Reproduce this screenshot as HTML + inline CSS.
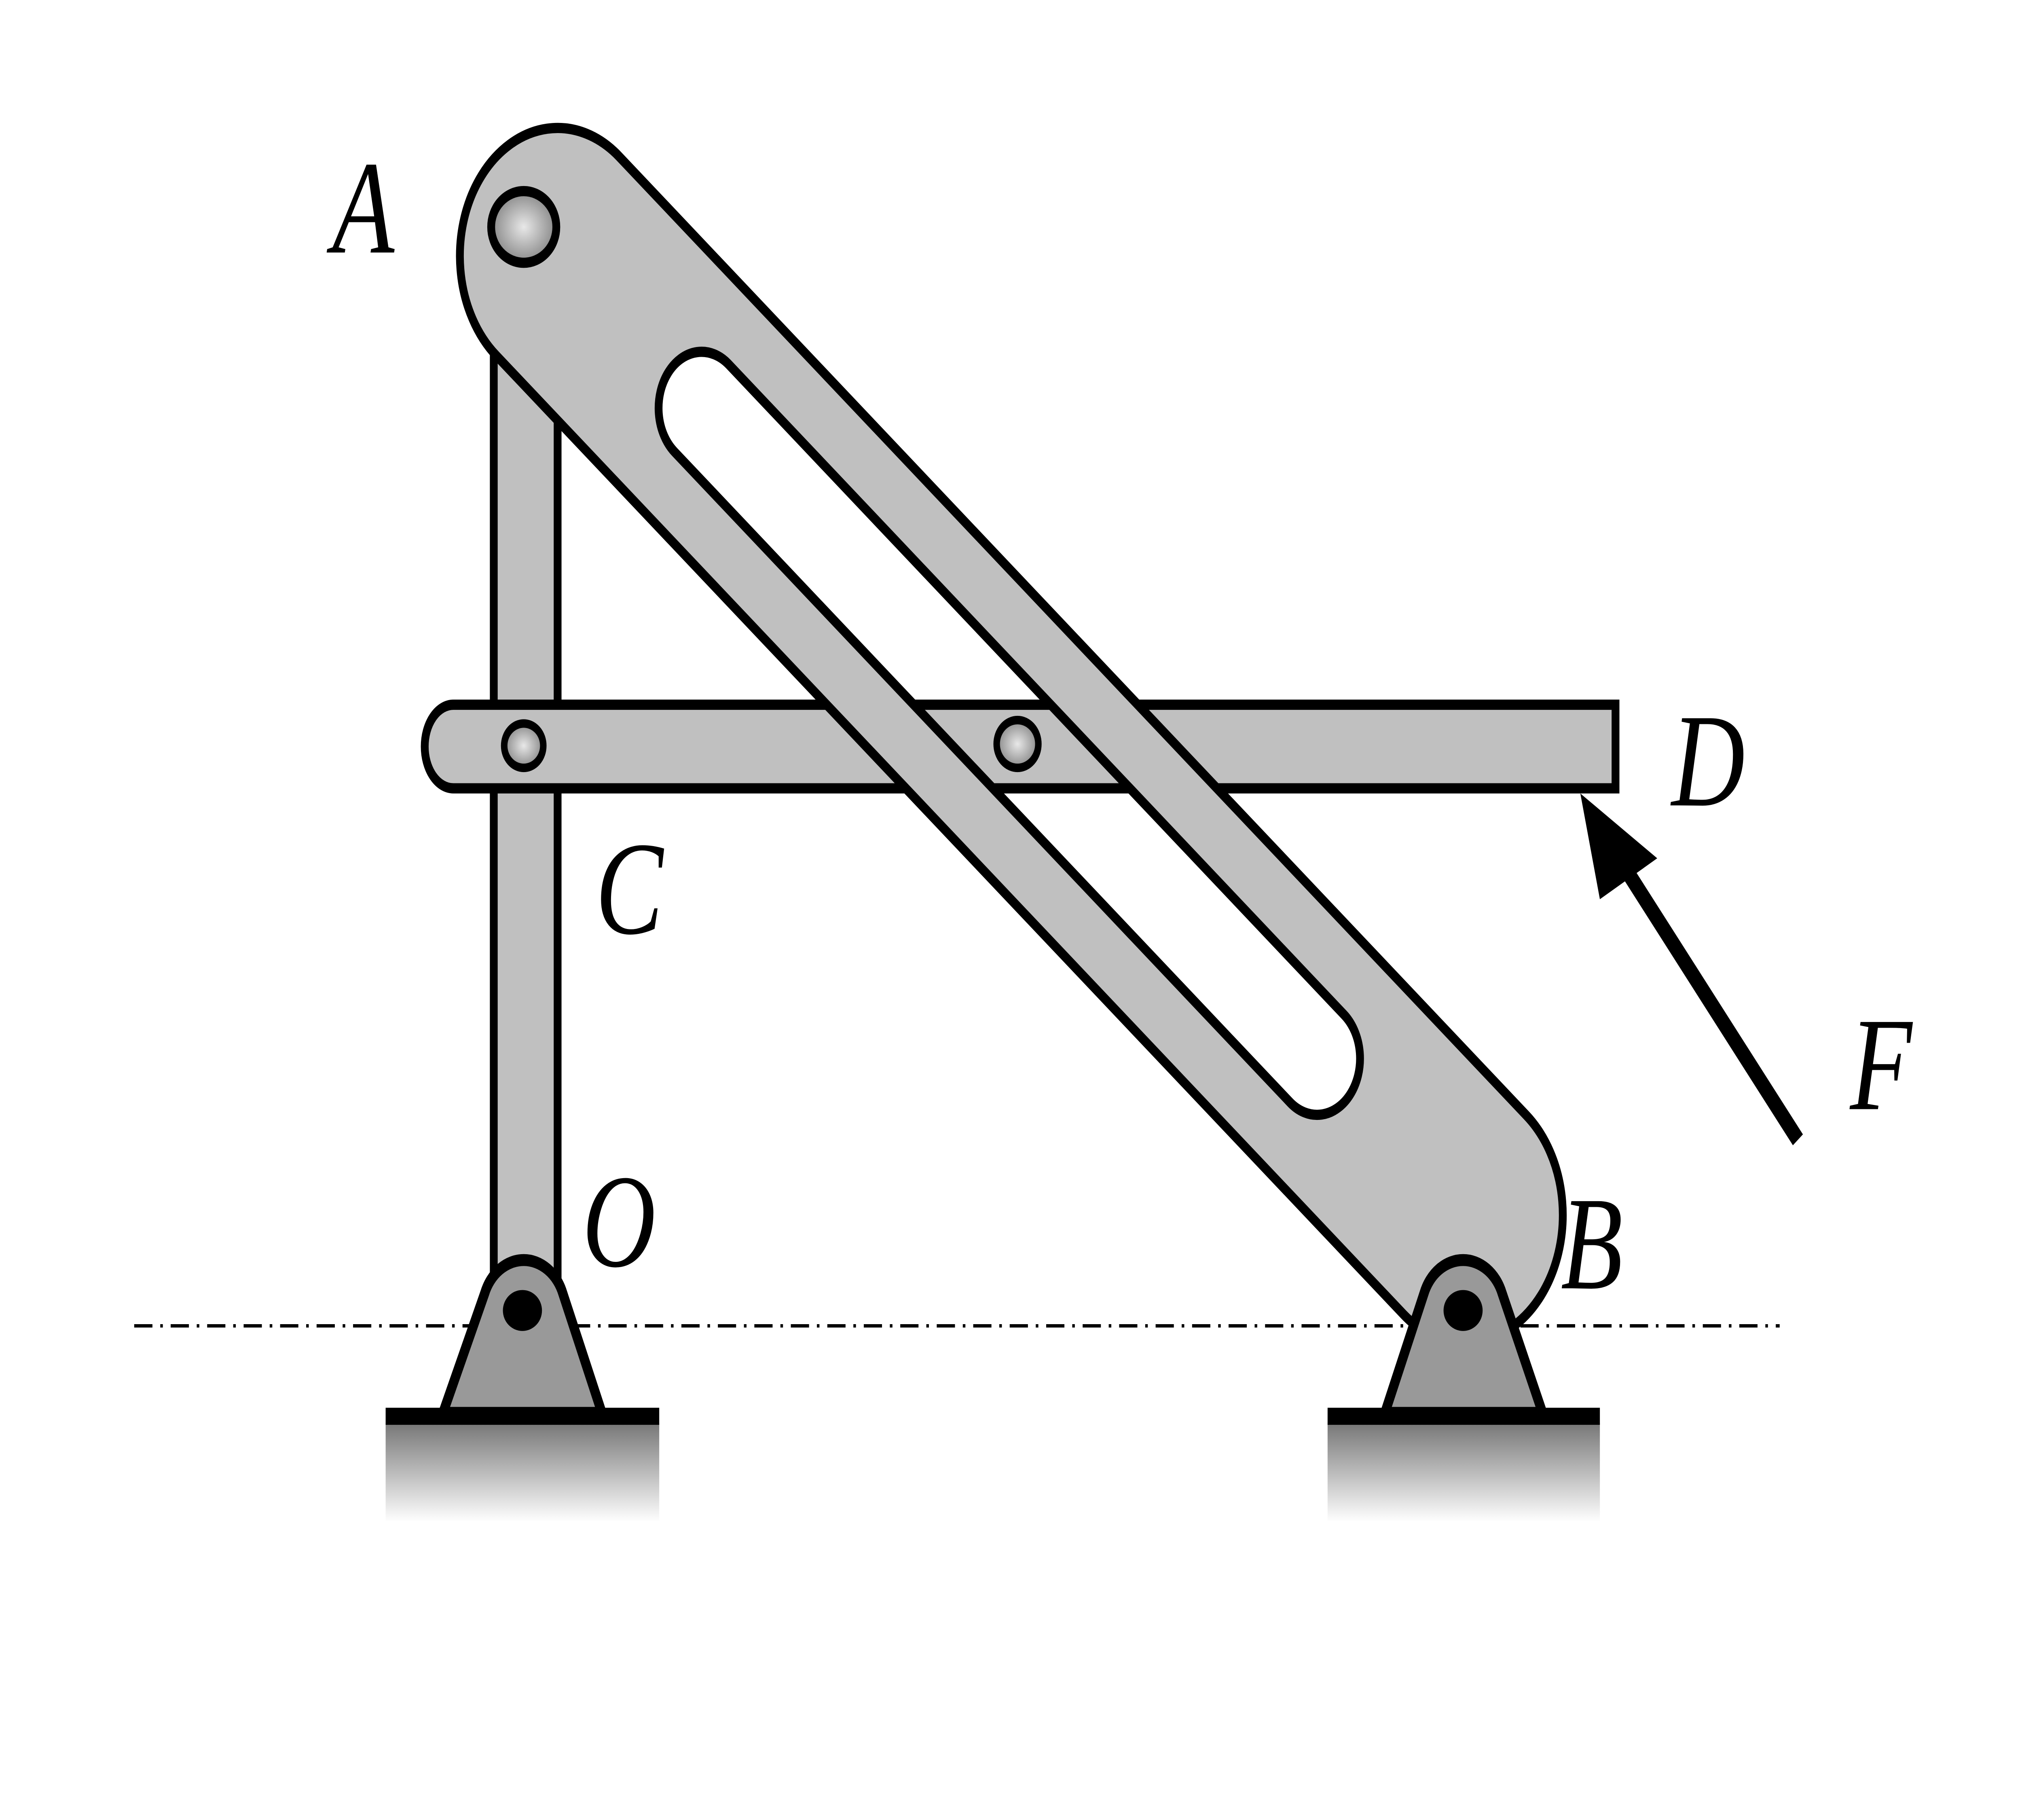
<!DOCTYPE html>
<html><head><style>html,body{margin:0;padding:0;background:#fff;overflow:hidden;width:100vw;height:100vh}svg{position:fixed;left:0;top:0;width:100vw;height:100vh;display:block}</style></head><body>
<svg viewBox="0 0 1552 1066.6" preserveAspectRatio="none" xmlns="http://www.w3.org/2000/svg">
<defs>
<linearGradient id="gnd" x1="0" y1="0" x2="0" y2="1"><stop offset="0" stop-color="#777"/><stop offset="1" stop-color="#fff"/></linearGradient>
<radialGradient id="pin" cx="0.5" cy="0.5" r="0.5"><stop offset="0" stop-color="#e8e8e8"/><stop offset="1" stop-color="#888"/></radialGradient>
</defs>
<rect width="1552" height="1066.6" fill="#fff"/>
<line x1="103" y1="777" x2="1366" y2="777" stroke="#000" stroke-width="2" stroke-dasharray="14 6 2 6"/>
<rect x="296" y="834" width="210" height="58" fill="url(#gnd)"/>
<rect x="1019" y="834" width="209" height="58" fill="url(#gnd)"/>
<rect x="296" y="825" width="210" height="10" fill="#000"/>
<rect x="1019" y="825" width="209" height="10" fill="#000"/>
<rect x="379" y="190" width="49" height="565" fill="#c0c0c0" stroke="#000" stroke-width="6"/>
<path d="M348,413 L1240,413 L1240,462 L348,462 A22,24.5 0 0 1 348,413 Z" fill="#c0c0c0" stroke="#000" stroke-width="6"/>
<g transform="translate(428,150) rotate(38.9)">
<path fill-rule="evenodd" fill="#c0c0c0" stroke="#000" stroke-width="6"
d="M0,-75 L895,-75 A75,75 0 0 1 895,75 L0,75 A75,75 0 0 1 0,-75 Z
M142,-33 L749,-33 A33,33 0 0 1 749,33 L142,33 A33,33 0 0 1 142,-33 Z"/>
</g>
<g>
<path d="M340,828 L372,758 A32,30 0 0 1 432,758 L462,828 Z" fill="#999" stroke="#000" stroke-width="7"/>
<ellipse cx="401" cy="768" rx="15" ry="12" fill="#000"/>
</g>
<g>
<path d="M1063,828 L1093,758 A32,30 0 0 1 1153,758 L1184,828 Z" fill="#999" stroke="#000" stroke-width="7"/>
<ellipse cx="1123" cy="768" rx="15" ry="12" fill="#000"/>
</g>
<ellipse cx="402" cy="133" rx="25" ry="21" fill="url(#pin)" stroke="#000" stroke-width="6"/>
<ellipse cx="402" cy="437" rx="15" ry="13" fill="url(#pin)" stroke="#000" stroke-width="5"/>
<ellipse cx="781" cy="436" rx="16" ry="14" fill="url(#pin)" stroke="#000" stroke-width="5"/>
<line x1="1380" y1="668" x2="1240" y2="500" stroke="#000" stroke-width="10"/>
<polygon points="1213,465 1272,503 1228,527" fill="#000"/>
<g font-family="Liberation Serif, serif" font-style="italic" font-size="78" fill="#000">
<text x="255" y="148">A</text>
<text x="1283" y="472">D</text>
<text x="457" y="547">C</text>
<text x="447" y="742">O</text>
<text x="1198" y="755">B</text>
<text x="1420" y="650">F</text>
</g>
</svg>
</body></html>
